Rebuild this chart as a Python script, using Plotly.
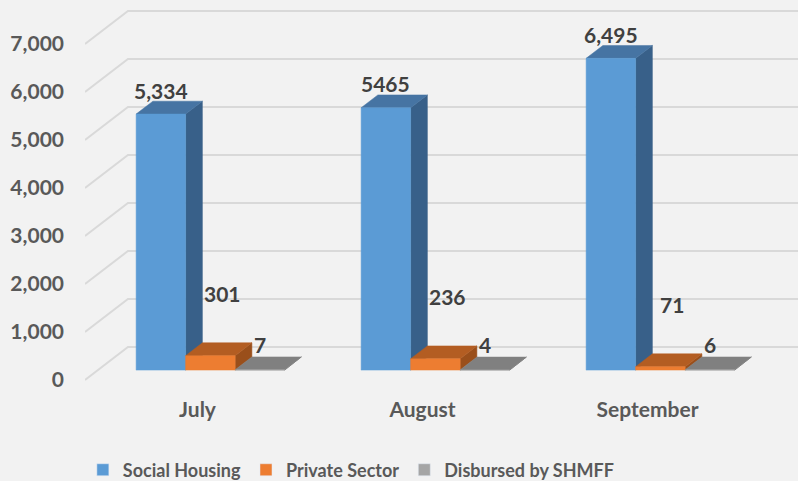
import plotly.graph_objects as go

# ---------------- data ----------------
categories = ["July", "August", "September"]
series_names = ["Social Housing", "Private Sector", "Disbursed by SHMFF"]
social_housing = [5334, 5465, 6495]
private_sector = [301, 236, 71]
disbursed_shmff = [7, 4, 6]
social_labels = ["5,334", "5465", "6,495"]
private_labels = ["301", "236", "71"]
disbursed_labels = ["7", "4", "6"]
y_ticks = [0, 1000, 2000, 3000, 4000, 5000, 6000, 7000]
y_tick_labels = ["0", "1,000", "2,000", "3,000", "4,000", "5,000", "6,000", "7,000"]

# ---------------- style / geometry ----------------
FRONT = ["#5B9BD5", "#ED7D31", "#A5A5A5"]
TOP = ["#4674A3", "#B35D22", "#808080"]
SIDE = ["#386089", "#9A4F1B", "#6B6B6B"]
GRID = "#D9D9D9"
BG = "#F2F2F2"
FONT = "Lato"

DX = 0.191    # full floor depth, in category units
DV = 687.5    # full floor depth, in value units
D0, D1 = 0.30, 0.69   # bar depth span
BW = 0.22     # bar width (category units)
X_MIN, X_MAX = -0.5, -0.5 + 713 / 225
Y_MIN, Y_MAX = -312.5, 7916.7


def proj(x, v, d):
    return x + d * DX, v + d * DV


fig = go.Figure()

# gridlines on side wall + back wall
gx, gy = [], []
for v in y_ticks:
    for (x, vv, d) in [(X_MIN, v, 0), (X_MIN, v, 1)]:
        px, py = proj(x, vv, d)
        gx.append(px); gy.append(py)
    gx.append(X_MAX); gy.append(v + DV)
    gx.append(None); gy.append(None)
fig.add_trace(go.Scatter(x=gx, y=gy, mode="lines", line=dict(color=GRID, width=2),
                         hoverinfo="skip", showlegend=False))


def poly(pts, color):
    xs, ys = [], []
    for p in pts:
        px, py = proj(*p)
        xs.append(px); ys.append(py)
    xs.append(xs[0]); ys.append(ys[0])
    fig.add_trace(go.Scatter(x=xs, y=ys, mode="lines", fill="toself", fillcolor=color,
                             line=dict(color=color, width=0.5), hoverinfo="skip",
                             showlegend=False))


all_series = [social_housing, private_sector, disbursed_shmff]
all_labels = [social_labels, private_labels, disbursed_labels]
label_shift = [(0, 24), (12, 62), (0, 25)]
annotations = []

for i, cat in enumerate(categories):
    for j, vals in enumerate(all_series):
        v = vals[i]
        xl = i + (j - 1.5) * BW
        xr = xl + BW
        poly([(xr, 0, D0), (xr, 0, D1), (xr, v, D1), (xr, v, D0)], SIDE[j])
        poly([(xl, v, D0), (xr, v, D0), (xr, v, D1), (xl, v, D1)], TOP[j])
        poly([(xl, 0, D0), (xr, 0, D0), (xr, v, D0), (xl, v, D0)], FRONT[j])
        cx, cy = proj((xl + xr) / 2, v, D0)
        annotations.append(dict(x=cx, y=cy, xref="x", yref="y", text=all_labels[j][i],
                                showarrow=False, xshift=label_shift[j][0],
                                yshift=label_shift[j][1], yanchor="middle",
                                font=dict(family=FONT, size=21, color="#404040",
                                          weight="bold")))

# legend entries
for j, name in enumerate(series_names):
    fig.add_trace(go.Bar(x=[None], y=[None], name=name, marker_color=FRONT[j]))

fig.update_layout(
    width=798, height=481,
    margin=dict(l=85, r=0, t=0, b=86, autoexpand=False),
    paper_bgcolor=BG, plot_bgcolor=BG,
    showlegend=True,
    legend=dict(orientation="h", x=-0.003, xanchor="left", y=-0.19, yanchor="middle",
                font=dict(family=FONT, size=18, color="#595959", weight="bold"),
                bgcolor="rgba(0,0,0,0)"),
    xaxis=dict(range=[X_MIN, X_MAX], tickvals=[0, 1, 2], ticktext=categories,
               showgrid=False, zeroline=False, showline=False, fixedrange=True,
               automargin=False,
               tickfont=dict(family=FONT, size=21, color="#595959", weight="bold")),
    yaxis=dict(range=[Y_MIN, Y_MAX], tickvals=y_ticks, ticktext=y_tick_labels,
               showgrid=False, zeroline=False, showline=False, fixedrange=True,
               automargin=False, ticklabelstandoff=20,
               tickfont=dict(family=FONT, size=21, color="#595959", weight="bold")),
    annotations=annotations,
)

fig.write_html(
    "out.html",
    config={"displayModeBar": False},
    post_script="document.body.style.margin='0';document.body.style.overflow='hidden';",
)
